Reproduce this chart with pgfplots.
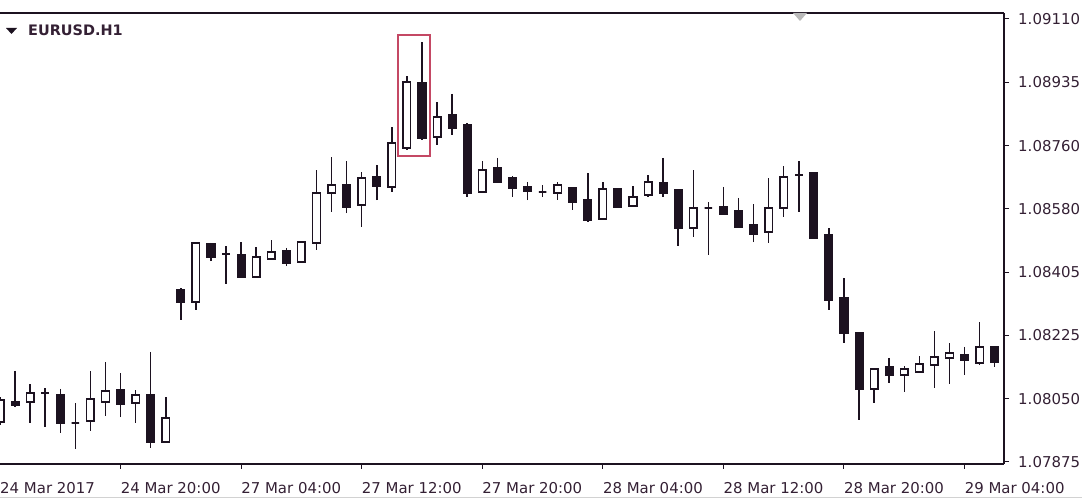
\documentclass[border=0pt]{standalone}
\usepackage{fontspec}
\setmainfont{DejaVu Sans}
\usepackage{pgfplots}
\usepackage{pgfplotstable}
\pgfplotsset{compat=1.18}
\usepgfplotslibrary{statistics}

\definecolor{ink}{RGB}{28,18,32}
\definecolor{labelink}{RGB}{52,32,52}
\definecolor{marker}{RGB}{196,72,100}

% EURUSD hourly bars, 24 Mar 12:00 to 29 Mar 06:00 (k = bar number)
\pgfplotstableread{
k  open    high    low     close
0  1.07986 1.08056 1.07978 1.08048
1  1.08042 1.08129 1.08028 1.08034
2  1.08042 1.08092 1.07984 1.08067
3  1.08067 1.08081 1.07973 1.08067
4  1.08062 1.08079 1.07956 1.07984
5  1.07984 1.08039 1.07911 1.07984
6  1.07989 1.08129 1.07961 1.08051
7  1.08042 1.08154 1.08003 1.08073
8  1.08076 1.08123 1.08000 1.08037
9  1.08039 1.08076 1.07984 1.08062
10 1.08062 1.08182 1.07914 1.07931
11 1.07931 1.08056 1.07931 1.07998
12 1.08355 1.08360 1.08271 1.08321
13 1.08321 1.08486 1.08299 1.08486
14 1.08483 1.08486 1.08435 1.08447
15 1.08455 1.08477 1.08371 1.08455
16 1.08452 1.08488 1.08391 1.08391
17 1.08391 1.08474 1.08391 1.08447
18 1.08441 1.08494 1.08441 1.08460
19 1.08463 1.08472 1.08421 1.08430
20 1.08433 1.08490 1.08430 1.08488
21 1.08486 1.08689 1.08466 1.08625
22 1.08625 1.08725 1.08572 1.08647
23 1.08647 1.08714 1.08569 1.08586
24 1.08591 1.08683 1.08530 1.08667
25 1.08670 1.08703 1.08605 1.08644
26 1.08642 1.08809 1.08628 1.08764
27 1.08750 1.08951 1.08745 1.08934
28 1.08932 1.09046 1.08773 1.08778
29 1.08781 1.08879 1.08759 1.08837
30 1.08842 1.08901 1.08787 1.08806
31 1.08815 1.08820 1.08614 1.08625
32 1.08628 1.08714 1.08628 1.08689
33 1.08695 1.08723 1.08653 1.08656
34 1.08667 1.08672 1.08614 1.08639
35 1.08642 1.08656 1.08605 1.08631
36 1.08628 1.08647 1.08614 1.08628
37 1.08625 1.08656 1.08605 1.08647
38 1.08639 1.08639 1.08578 1.08600
39 1.08605 1.08681 1.08544 1.08550
40 1.08552 1.08656 1.08552 1.08636
41 1.08636 1.08636 1.08586 1.08586
42 1.08589 1.08644 1.08586 1.08614
43 1.08619 1.08675 1.08614 1.08656
44 1.08653 1.08723 1.08614 1.08625
45 1.08633 1.08633 1.08477 1.08527
46 1.08527 1.08689 1.08502 1.08583
47 1.08583 1.08600 1.08452 1.08583
48 1.08586 1.08642 1.08564 1.08566
49 1.08575 1.08611 1.08530 1.08530
50 1.08536 1.08594 1.08488 1.08511
51 1.08516 1.08667 1.08486 1.08583
52 1.08583 1.08700 1.08558 1.08670
53 1.08675 1.08714 1.08572 1.08675
54 1.08681 1.08681 1.08497 1.08499
55 1.08508 1.08527 1.08299 1.08327
56 1.08332 1.08388 1.08207 1.08235
57 1.08235 1.08235 1.07992 1.08079
58 1.08079 1.08134 1.08039 1.08134
59 1.08140 1.08165 1.08095 1.08118
60 1.08118 1.08143 1.08070 1.08134
61 1.08126 1.08171 1.08126 1.08148
62 1.08145 1.08240 1.08081 1.08168
63 1.08165 1.08207 1.08092 1.08179
64 1.08173 1.08196 1.08118 1.08159
65 1.08151 1.08265 1.08145 1.08196
66 1.08196 1.08196 1.08140 1.08154
}\bars

% the price axis is laid out in units of 0.0001 above 1.08000
\newcommand*\pts[1]{\fpeval{(#1-1.08)*10000}}

\begin{document}
\begin{tikzpicture}
\pgfplotstablegetrowsof{\bars}
\pgfmathtruncatemacro{\lastrow}{\pgfplotsretval-1}
\begin{axis}[
  scale only axis,
  width=1004bp, height=451bp,
  xmin=0, xmax=66.62,
  ymin=-13.07, ymax=112.67,
  axis x line*=box, axis y line*=right,
  axis line style={-, draw=ink, line width=1.2bp},
  xtick={0,8,...,64},
  xticklabels={24 Mar 2017,24 Mar 20:00,27 Mar 04:00,27 Mar 12:00,27 Mar 20:00,28 Mar 04:00,28 Mar 12:00,28 Mar 20:00,29 Mar 04:00},
  ytick={111,93.36,75.71,58.07,40.43,22.79,5.14,-12.5},
  yticklabels={1.09110,1.08935,1.08760,1.08580,1.08405,1.08225,1.08050,1.07875},
  xtick pos=left,
  tick align=outside, major tick length=5bp,
  tick style={draw=ink, line width=1bp},
  tick label style={font=\fontsize{15}{18}\selectfont, text=labelink},
  xticklabel style={anchor=base west, inner xsep=0pt, yshift=-24bp},
  yticklabel style={anchor=west, inner xsep=0pt, xshift=9bp},
  boxplot/draw direction=y,
  clip=true,
]
\pgfplotsinvokeforeach{0,...,\lastrow}{
  \pgfplotstablegetelem{#1}{k}\of\bars \let\ck\pgfplotsretval
  \pgfplotstablegetelem{#1}{open}\of\bars \let\co\pgfplotsretval
  \pgfplotstablegetelem{#1}{high}\of\bars \let\ch\pgfplotsretval
  \pgfplotstablegetelem{#1}{low}\of\bars \let\cl\pgfplotsretval
  \pgfplotstablegetelem{#1}{close}\of\bars \let\cc\pgfplotsretval
  \ifnum\fpeval{\cc<\co}=1
    \edef\bodyfill{ink}\let\bodylo\cc\let\bodyhi\co
  \else
    \edef\bodyfill{white}\let\bodylo\co\let\bodyhi\cc
  \fi
  \edef\candle{\noexpand\addplot[draw=ink, fill=\bodyfill, line width=1.5bp,
    boxplot/draw direction=y,
    boxplot/box extend=0.5, boxplot/whisker extend=0,
    boxplot prepared={draw position=\ck, lower whisker=\pts{\cl},
      lower quartile=\pts{\bodylo}, median=\pts{\bodylo},
      upper quartile=\pts{\bodyhi}, upper whisker=\pts{\ch}}] coordinates {};}
  \candle
}
% highlight around the two peak bars
\draw[marker, line width=1.5bp] (axis cs:26.41,106.5) rectangle (axis cs:28.53,72.8);
\end{axis}
% chart header
\fill[ink] (6bp,436bp) -- (17bp,436bp) -- (11.5bp,430bp) -- cycle;
\node[anchor=base west, inner sep=0pt, font=\fontsize{14.5}{17}\selectfont\bfseries, text=labelink] at (28bp,428bp) {EURUSD.H1};
% chart shift marker
\fill[gray!55] (793bp,451bp) -- (807bp,451bp) -- (800bp,443bp) -- cycle;
\draw[gray!35, line width=1bp] (0,-33bp) -- (1082bp,-33bp);
\pgfresetboundingbox
\useasboundingbox (0,-36bp) rectangle (1082bp,464bp);
\end{tikzpicture}
\end{document}
